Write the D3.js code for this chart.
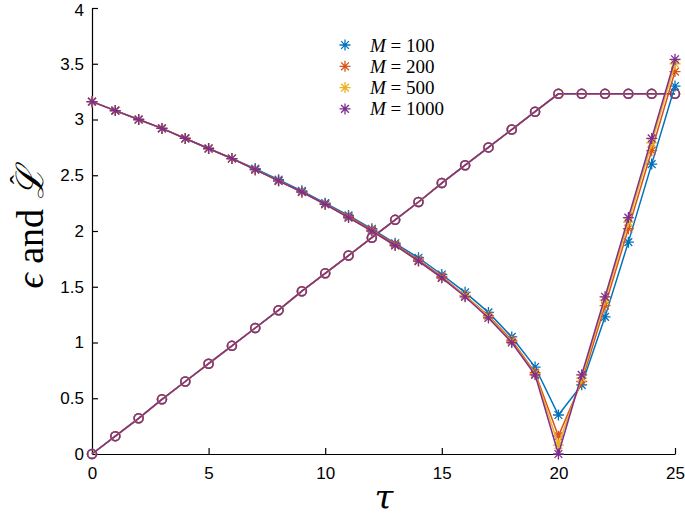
<!DOCTYPE html>
<html>
<head>
<meta charset="utf-8">
<script src="https://cdn.jsdelivr.net/npm/d3@7"></script>
<style>
  body { margin: 0; background: #fff; }
  .tick text { font-family: "Liberation Sans", Arial, sans-serif; font-size: 17px; fill: #000; }
</style>
</head>
<body>
<div id="chart"></div>
<script>
var svgWidth = 685;
var svgHeight = 517;

var margin = { top: 8, right: 10, bottom: 63, left: 92 };

var width = svgWidth - margin.left - margin.right;
var height = svgHeight - margin.top - margin.bottom;

// data
var tau = d3.range(0, 26);
var seriesNames = ["M = 100", "M = 200", "M = 500", "M = 1000"];
var seriesColors = ["#0072BD", "#D95319", "#EDB120", "#7E2F8E"];

var eps100 = [3.16, 3.08, 3.00, 2.92, 2.83, 2.74, 2.65, 2.56, 2.46, 2.36, 2.25, 2.14, 2.02, 1.89, 1.76, 1.61, 1.45, 1.27, 1.05, 0.78, 0.35,
              0.62, 1.23, 1.90, 2.60, 3.30];
var eps200 = [3.16, 3.08, 3.00, 2.92, 2.83, 2.74, 2.65, 2.55, 2.45, 2.35, 2.24, 2.13, 2.01, 1.88, 1.74, 1.59, 1.42, 1.24, 1.02, 0.73, 0.16,
              0.65, 1.33, 2.02, 2.72, 3.43];
var eps500 = [3.16, 3.08, 3.00, 2.92, 2.83, 2.74, 2.65, 2.55, 2.45, 2.35, 2.24, 2.12, 2.00, 1.87, 1.73, 1.58, 1.42, 1.23, 1.01, 0.72, 0.08,
              0.68, 1.38, 2.08, 2.79, 3.50];
var eps1000 = [3.16, 3.08, 3.00, 2.92, 2.83, 2.74, 2.65, 2.55, 2.45, 2.35, 2.24, 2.12, 2.00, 1.87, 1.73, 1.58, 1.41, 1.22, 1.00, 0.71, 0.00,
               0.71, 1.41, 2.12, 2.83, 3.54];
var lhat = [0, 0.16, 0.32, 0.49, 0.65, 0.81, 0.97, 1.13, 1.29, 1.46, 1.62, 1.78, 1.94, 2.10, 2.26, 2.43, 2.59, 2.75, 2.91, 3.07, 3.23,
            3.23, 3.23, 3.23, 3.23, 3.23];

var epsSeries = [eps100, eps200, eps500, eps1000];

var xTicks = [0, 5, 10, 15, 20, 25];
var yTicks = [0, 0.5, 1, 1.5, 2, 2.5, 3, 3.5, 4];

var svg = d3.select("#chart")
  .append("svg")
  .attr("width", svgWidth)
  .attr("height", svgHeight);

var chartGroup = svg.append("g")
  .attr("transform", `translate(${margin.left},${margin.top})`);

var xScale = d3.scaleLinear().domain([0, 25]).range([0, width]);
var yScale = d3.scaleLinear().domain([0, 4]).range([height, 0]);

// axes, ticks pointing inward
var bottomAxis = d3.axisBottom(xScale).tickValues(xTicks).tickSizeInner(-6).tickSizeOuter(0).tickPadding(13).tickFormat(d3.format("d"));
var leftAxis = d3.axisLeft(yScale).tickValues(yTicks).tickSizeInner(-6).tickSizeOuter(0).tickPadding(8).tickFormat(d => String(d));

var gx = chartGroup.append("g")
  .attr("transform", `translate(0,${height})`)
  .call(bottomAxis);
var gy = chartGroup.append("g").call(leftAxis);
[gx, gy].forEach(function (g) {
  g.selectAll("path, line").attr("stroke", "#000").attr("stroke-width", 1.2);
});
// keep the top "4" inside the picture
gy.selectAll(".tick text").filter(d => d === 4).attr("dy", "0.45em");

var line = d3.line().x((d, i) => xScale(tau[i])).y(d => yScale(d));

function starPath(r) {
  var p = "";
  for (var k = 0; k < 4; k++) {
    var a = k * Math.PI / 4;
    var dx = r * Math.cos(a), dy = r * Math.sin(a);
    p += `M${-dx},${-dy}L${dx},${dy}`;
  }
  return p;
}

// L-hat curves (circles), all M overlapping
epsSeries.forEach(function (s, si) {
  chartGroup.append("path")
    .datum(lhat)
    .attr("d", line)
    .attr("fill", "none")
    .attr("stroke", seriesColors[si])
    .attr("stroke-width", 1.5);
});
epsSeries.forEach(function (s, si) {
  chartGroup.selectAll(null)
    .data(lhat)
    .enter()
    .append("circle")
    .attr("cx", (d, i) => xScale(tau[i]))
    .attr("cy", d => yScale(d))
    .attr("r", 4.5)
    .attr("fill", "none")
    .attr("stroke", seriesColors[si])
    .attr("stroke-width", 1.5);
});

// epsilon curves (stars)
epsSeries.forEach(function (s, si) {
  chartGroup.append("path")
    .datum(s)
    .attr("d", line)
    .attr("fill", "none")
    .attr("stroke", seriesColors[si])
    .attr("stroke-width", 1.5);
  chartGroup.selectAll(null)
    .data(s)
    .enter()
    .append("path")
    .attr("transform", (d, i) => `translate(${xScale(tau[i])},${yScale(d)})`)
    .attr("d", starPath(5.5))
    .attr("stroke", seriesColors[si])
    .attr("stroke-width", 1.3);
});

// legend
var legend = svg.append("g").attr("transform", "translate(345,45)");
seriesNames.forEach(function (name, i) {
  var row = legend.append("g").attr("transform", `translate(0,${i * 21.3})`);
  row.append("path").attr("d", starPath(5.5)).attr("stroke", seriesColors[i]).attr("stroke-width", 1.3);
  var t = row.append("text")
    .attr("x", 25)
    .attr("y", 6.5)
    .attr("font-family", "'Liberation Serif', 'DejaVu Serif', serif")
    .attr("font-size", 19);
  t.append("tspan").attr("font-style", "italic").text("M");
  t.append("tspan").text(" = " + name.split(" = ")[1]);
});

// axis labels
svg.append("text")
  .attr("transform", "translate(384,509)")
  .attr("text-anchor", "middle")
  .attr("font-family", "'DejaVu Serif', serif")
  .attr("font-style", "italic")
  .attr("font-size", 34)
  .text("τ");

var ylab = svg.append("text")
  .attr("transform", "translate(43,228) rotate(-90)")
  .attr("text-anchor", "middle")
  .attr("font-family", "'Liberation Serif', 'DejaVu Serif', serif")
  .attr("font-size", 38);
ylab.append("tspan").attr("font-style", "italic").text("ϵ");
ylab.append("tspan").text(" and ");
ylab.append("tspan").attr("font-family", "'DejaVu Serif', serif").attr("font-style", "italic").text("ℒ");
ylab.append("tspan").attr("dx", "-0.6em").attr("dy", "-0.5em").attr("font-size", 28).text("ˆ");
</script>
</body>
</html>
